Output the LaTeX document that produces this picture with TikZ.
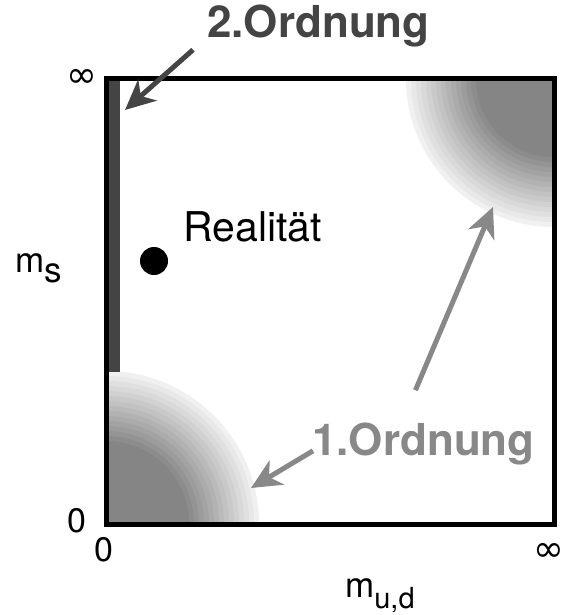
\documentclass[tikz,border=0pt]{standalone}
\usepackage{fontspec}
\setmainfont{TeX Gyre Heros}
\newfontfamily\symbfont{DejaVu Sans}
\usepackage{tikz}
\usetikzlibrary{arrows.meta}
\definecolor{dunkelgrau}{HTML}{444444}
\definecolor{mittelgrau}{HTML}{888888}
\tikzset{
  pfeil/.style={line width=5pt, -{Stealth[length=30pt, width=28pt, inset=9pt]}},
  beschr/.style={inner sep=0pt, anchor=base west},
  punkt/.style={circle, fill=black, minimum size=28pt, inner sep=0pt}
}
\begin{document}
\begin{tikzpicture}[x=1pt, y=-1pt]
        \useasboundingbox (0,0) rectangle (565,615);
        % Ecken mit abgestuftem Grau
        \begin{scope}
          \clip (106,79) rectangle (554,524);
          \foreach \i in {0,...,14}{
            \pgfmathsetmacro\c{6+3*\i}
            \pgfmathsetmacro\ru{153-5*\i}
            \pgfmathsetmacro\ro{148-5*\i}
            \fill[black!\c] (106,524) circle[radius=\ru pt];
            \fill[black!\c] (554,79) circle[radius=\ro pt];
          }
        \end{scope}
        % Balken 2. Ordnung
        \fill[dunkelgrau] (105,79) rectangle (120,372);
        % Rahmen
        \draw[line width=5pt] (106,79) rectangle (554,524);
        % Achsen
        \node[inner sep=0pt] (inf1) at (82,78) {\fontsize{37}{42}\symbfont ∞};
        \node (null1) at (77,521) {\fontsize{34}{40}\selectfont 0};
        \node (null2) at (104,550) {\fontsize{34}{40}\selectfont 0};
        \node[inner sep=0pt] (inf2) at (549,552) {\fontsize{37}{42}\symbfont ∞};
        \node[beschr] (ms) at (15,272) {\fontsize{35}{42}\selectfont m\raisebox{-10pt}{s}};
        \node[beschr] (mud) at (345,597) {\fontsize{35}{42}\selectfont m\raisebox{-11pt}{\fontsize{29}{34}\selectfont u,d}};
        % Realitaet
        \node[punkt] (real) at (154,261) {};
        \node[beschr] (realtext) at (183,241) {\fontsize{41}{48}\selectfont Realität};
        % Ordnungen
        \node[beschr, text=dunkelgrau] (ord2) at (207,38) {\fontsize{44}{52}\selectfont\bfseries 2.Ordnung};
        \node[beschr, text=mittelgrau] (ord1) at (312,455) {\fontsize{44}{52}\selectfont\bfseries 1.Ordnung};
        \coordinate (z2) at (125,110);
        \coordinate (z1a) at (493,207);
        \coordinate (z1b) at (251,488);
        \draw[pfeil, dunkelgrau] ([shift={(-14,2)}]ord2.south west) -- (z2);
        \draw[pfeil, mittelgrau] ([shift={(-8,-32)}]ord1.north) -- (z1a);
        \draw[pfeil, mittelgrau] ([shift={(1,-14)}]ord1.south west) -- (z1b);
    \end{tikzpicture}
\end{document}
